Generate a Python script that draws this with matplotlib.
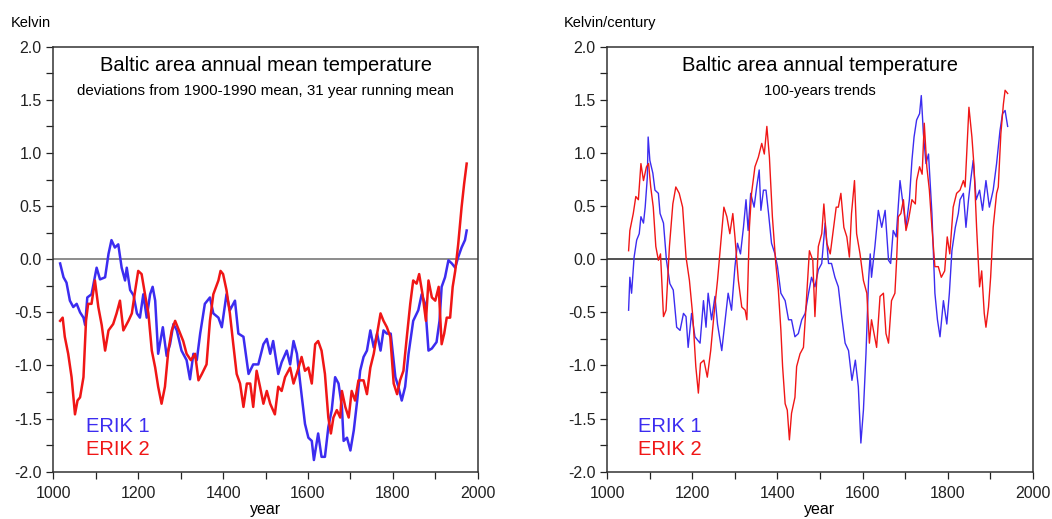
import matplotlib
matplotlib.use("Agg")
import matplotlib.pyplot as plt
from matplotlib.ticker import MultipleLocator, FormatStrFormatter

plt.rcParams['font.family'] = ['Liberation Sans', 'DejaVu Sans']

# ---------------- data: left panel (31-year running mean, K) ----------------
erik1_mean_years = [1016, 1024, 1031, 1039, 1047, 1055, 1063, 1071, 1075, 1080, 1090, 1102, 1110, 1122,
                    1130, 1137, 1145, 1153, 1161, 1169, 1173, 1181, 1189, 1197, 1204, 1212, 1220, 1228,
                    1234, 1240, 1247, 1258, 1267, 1275, 1283, 1291, 1302, 1314, 1322, 1330, 1338, 1346,
                    1357, 1369, 1377, 1389, 1397, 1408, 1416, 1428, 1436, 1448, 1460, 1471, 1483, 1495,
                    1503, 1511, 1518, 1530, 1538, 1550, 1558, 1566, 1574, 1581, 1593, 1601, 1609, 1614,
                    1624, 1632, 1640, 1648, 1656, 1664, 1672, 1680, 1684, 1692, 1700, 1708, 1716, 1723,
                    1731, 1739, 1747, 1755, 1763, 1771, 1778, 1786, 1795, 1806, 1813, 1821, 1829, 1837,
                    1848, 1860, 1868, 1876, 1884, 1892, 1903, 1910, 1915, 1923, 1931, 1939, 1947, 1954,
                    1962, 1970, 1974]
erik1_mean = [-0.04, -0.17, -0.22, -0.39, -0.45, -0.42, -0.50, -0.55, -0.62, -0.36, -0.33, -0.08, -0.19, -0.17,
              0.05, 0.18, 0.11, 0.14, -0.08, -0.20, -0.08, -0.29, -0.34, -0.51, -0.55, -0.33, -0.55, -0.33,
              -0.26, -0.39, -0.89, -0.64, -0.91, -0.80, -0.61, -0.67, -0.86, -0.95, -1.13, -0.89, -0.95, -0.70,
              -0.42, -0.36, -0.51, -0.55, -0.64, -0.33, -0.48, -0.39, -0.70, -0.73, -1.08, -0.99, -0.99, -0.80,
              -0.75, -0.89, -0.77, -1.08, -0.97, -0.86, -0.99, -0.77, -0.89, -1.14, -1.55, -1.68, -1.71, -1.89,
              -1.64, -1.86, -1.86, -1.58, -1.42, -1.11, -1.17, -1.39, -1.71, -1.68, -1.80, -1.61, -1.33, -1.05,
              -0.92, -0.86, -0.67, -0.83, -0.70, -0.86, -0.67, -0.70, -0.70, -1.11, -1.20, -1.33, -1.20, -0.89,
              -0.58, -0.48, -0.33, -0.42, -0.86, -0.84, -0.78, -0.58, -0.26, -0.17, -0.01, -0.04, -0.08, 0.02,
              0.11, 0.18, 0.27]

erik2_mean_years = [1016, 1022, 1027, 1035, 1043, 1051, 1057, 1063, 1071, 1077, 1082, 1090, 1098, 1106,
                    1114, 1122, 1130, 1141, 1149, 1157, 1165, 1177, 1185, 1193, 1200, 1208, 1216, 1224,
                    1232, 1240, 1247, 1255, 1263, 1271, 1279, 1287, 1296, 1306, 1314, 1324, 1334, 1342,
                    1350, 1361, 1369, 1377, 1389, 1394, 1400, 1408, 1416, 1424, 1432, 1440, 1448, 1456,
                    1464, 1471, 1479, 1487, 1495, 1503, 1511, 1522, 1530, 1538, 1546, 1558, 1566, 1578,
                    1585, 1593, 1601, 1609, 1617, 1624, 1632, 1640, 1648, 1654, 1660, 1668, 1676, 1680,
                    1688, 1696, 1703, 1711, 1719, 1731, 1739, 1747, 1755, 1763, 1771, 1778, 1786, 1794,
                    1802, 1810, 1817, 1825, 1833, 1841, 1848, 1856, 1862, 1870, 1878, 1884, 1892, 1900,
                    1908, 1915, 1921, 1927, 1935, 1941, 1947, 1954, 1962, 1968, 1974]
erik2_mean = [-0.58, -0.55, -0.73, -0.89, -1.11, -1.46, -1.33, -1.30, -1.11, -0.58, -0.42, -0.42, -0.20, -0.45,
              -0.62, -0.86, -0.67, -0.61, -0.51, -0.39, -0.67, -0.58, -0.51, -0.29, -0.11, -0.14, -0.33, -0.51,
              -0.86, -1.02, -1.20, -1.36, -1.20, -0.86, -0.67, -0.58, -0.67, -0.77, -0.89, -0.95, -0.89, -1.14,
              -1.08, -0.99, -0.58, -0.33, -0.20, -0.11, -0.14, -0.29, -0.51, -0.80, -1.08, -1.17, -1.39, -1.17,
              -1.17, -1.39, -1.05, -1.20, -1.36, -1.24, -1.36, -1.46, -1.20, -1.24, -1.11, -1.02, -1.17, -1.02,
              -0.92, -1.05, -1.02, -1.17, -0.80, -0.77, -0.86, -1.08, -1.49, -1.64, -1.49, -1.42, -1.49, -1.24,
              -1.39, -1.49, -1.24, -1.33, -1.14, -1.14, -1.27, -1.02, -0.89, -0.70, -0.51, -0.58, -0.64, -0.73,
              -1.17, -1.27, -1.14, -1.05, -0.73, -0.42, -0.20, -0.23, -0.14, -0.33, -0.58, -0.20, -0.36, -0.39,
              -0.26, -0.80, -0.70, -0.55, -0.55, -0.26, -0.11, 0.14, 0.49, 0.71, 0.90]

# ---------------- data: right panel (100-year trends, K/century) ----------------
erik1_trend_years = [1050, 1053, 1057, 1063, 1069, 1075, 1079, 1085, 1089, 1094, 1096, 1100, 1107, 1112,
                     1120, 1124, 1132, 1139, 1147, 1155, 1163, 1171, 1179, 1185, 1190, 1198, 1206, 1218,
                     1226, 1232, 1237, 1245, 1253, 1259, 1269, 1277, 1284, 1292, 1300, 1306, 1313, 1320,
                     1326, 1331, 1337, 1345, 1351, 1357, 1361, 1367, 1373, 1379, 1386, 1394, 1400, 1408,
                     1418, 1426, 1433, 1441, 1449, 1457, 1465, 1473, 1480, 1488, 1496, 1504, 1512, 1520,
                     1527, 1535, 1543, 1551, 1559, 1567, 1575, 1583, 1590, 1596, 1602, 1608, 1614, 1618,
                     1621, 1629, 1637, 1645, 1653, 1661, 1666, 1672, 1679, 1688, 1696, 1702, 1710, 1716,
                     1721, 1727, 1734, 1738, 1743, 1749, 1755, 1763, 1770, 1776, 1782, 1790, 1798, 1804,
                     1810, 1818, 1825, 1829, 1837, 1843, 1849, 1854, 1860, 1867, 1875, 1882, 1890, 1898,
                     1907, 1915, 1923, 1929, 1935, 1941]
erik1_trend = [-0.48, -0.17, -0.32, 0.02, 0.18, 0.24, 0.40, 0.34, 0.49, 0.77, 1.15, 0.93, 0.81, 0.65,
               0.62, 0.43, 0.34, -0.01, -0.23, -0.29, -0.64, -0.67, -0.51, -0.54, -0.83, -0.51, -0.73, -0.79,
               -0.39, -0.64, -0.32, -0.57, -0.35, -0.61, -0.86, -0.57, -0.32, -0.48, -0.07, 0.15, 0.05, 0.30,
               0.56, 0.27, 0.62, 0.49, 0.68, 0.84, 0.46, 0.65, 0.65, 0.43, 0.15, 0.05, -0.07, -0.32,
               -0.39, -0.57, -0.57, -0.73, -0.70, -0.57, -0.51, -0.32, -0.17, -0.26, -0.10, -0.04, 0.34, -0.04,
               -0.04, -0.17, -0.26, -0.54, -0.79, -0.86, -1.14, -0.95, -1.20, -1.73, -1.42, -0.89, -0.20, 0.05,
               -0.17, 0.12, 0.46, 0.30, 0.46, -0.01, -0.04, 0.27, 0.21, 0.74, 0.49, 0.30, 0.56, 0.93,
               1.15, 1.31, 1.37, 1.54, 1.18, 0.90, 0.99, 0.43, -0.32, -0.57, -0.73, -0.39, -0.61, -0.32,
               0.08, 0.30, 0.43, 0.56, 0.62, 0.30, 0.56, 0.74, 0.93, 0.56, 0.65, 0.46, 0.74, 0.49,
               0.65, 0.90, 1.21, 1.37, 1.40, 1.25]

erik2_trend_years = [1050, 1053, 1061, 1067, 1073, 1079, 1085, 1092, 1097, 1102, 1108, 1114, 1120, 1125,
                     1132, 1138, 1146, 1154, 1161, 1169, 1177, 1185, 1193, 1201, 1208, 1214, 1219, 1227,
                     1235, 1243, 1251, 1259, 1266, 1274, 1281, 1288, 1295, 1300, 1308, 1316, 1324, 1328,
                     1334, 1339, 1347, 1355, 1363, 1369, 1375, 1381, 1388, 1396, 1402, 1408, 1412, 1418,
                     1423, 1428, 1433, 1441, 1445, 1453, 1461, 1467, 1475, 1483, 1488, 1496, 1504, 1509,
                     1516, 1524, 1531, 1538, 1543, 1549, 1556, 1563, 1569, 1574, 1581, 1586, 1594, 1602,
                     1610, 1616, 1621, 1627, 1633, 1641, 1649, 1655, 1661, 1668, 1676, 1680, 1684, 1690,
                     1696, 1702, 1708, 1716, 1724, 1727, 1734, 1740, 1745, 1751, 1757, 1763, 1770, 1778,
                     1785, 1793, 1799, 1805, 1813, 1821, 1829, 1837, 1841, 1850, 1857, 1862, 1868, 1875,
                     1880, 1886, 1890, 1896, 1901, 1907, 1915, 1919, 1925, 1931, 1935, 1941]
erik2_trend = [0.08, 0.27, 0.43, 0.59, 0.56, 0.90, 0.74, 0.87, 0.90, 0.68, 0.49, 0.12, -0.01, 0.05,
               -0.54, -0.48, 0.12, 0.52, 0.68, 0.62, 0.49, 0.02, -0.20, -0.54, -1.01, -1.26, -0.98, -0.95,
               -1.11, -0.86, -0.51, -0.20, 0.12, 0.49, 0.40, 0.24, 0.43, 0.21, -0.20, -0.45, -0.48, -0.57,
               0.30, 0.62, 0.87, 0.96, 1.09, 0.99, 1.25, 0.96, 0.40, -0.04, -0.29, -0.67, -1.01, -1.36,
               -1.42, -1.70, -1.45, -1.30, -1.01, -0.89, -0.83, -0.45, 0.08, -0.01, -0.54, 0.12, 0.24, 0.52,
               0.15, 0.05, 0.27, 0.49, 0.49, 0.62, 0.30, 0.21, 0.02, 0.43, 0.74, 0.24, 0.05, -0.20,
               -0.32, -0.79, -0.57, -0.70, -0.83, -0.35, -0.32, -0.70, -0.79, -0.39, -0.32, -0.01, 0.40, 0.43,
               0.56, 0.27, 0.37, 0.56, 0.52, 0.74, 0.87, 0.80, 1.28, 0.87, 0.65, 0.30, -0.07, -0.07,
               -0.17, -0.11, 0.21, 0.05, 0.49, 0.62, 0.65, 0.74, 0.68, 1.43, 1.15, 0.87, 0.30, -0.26,
               -0.11, -0.51, -0.64, -0.45, -0.17, 0.30, 0.62, 0.68, 1.18, 1.46, 1.59, 1.56]

x_ticks = [1000, 1200, 1400, 1600, 1800, 2000]
y_ticks = [-2.0, -1.5, -1.0, -0.5, 0.0, 0.5, 1.0, 1.5, 2.0]

BLUE = '#3c2cf0'
RED = '#f01616'

fig = plt.figure(figsize=(10.52, 5.19), dpi=100)
ax1 = fig.add_axes([0.0507, 0.0911, 0.4034, 0.8189])
ax2 = fig.add_axes([0.5773, 0.0911, 0.4044, 0.8189])


def style(ax, zero_color):
    ax.set_xlim(1000, 2000)
    ax.set_ylim(-2.0, 2.0)
    ax.set_xticks(x_ticks)
    ax.set_yticks(y_ticks)
    ax.xaxis.set_minor_locator(MultipleLocator(100))
    ax.yaxis.set_minor_locator(MultipleLocator(0.25))
    ax.yaxis.set_major_formatter(FormatStrFormatter('%.1f'))
    ax.tick_params(which='both', direction='out', length=5, width=0.9, top=False, right=False,
                   labelsize=11.5, colors='#222222')
    ax.tick_params(axis='x', pad=5)
    for s in ax.spines.values():
        s.set_linewidth(1.1)
        s.set_color('#333333')
    ax.axhline(0, color=zero_color, lw=1.1, zorder=1)
    ax.set_xlabel('year', fontsize=11.5, labelpad=1)


style(ax1, '#6e6e6e')
style(ax2, '#222222')

ax1.plot(erik2_mean_years, erik2_mean, color=RED, lw=1.8, zorder=3)
ax1.plot(erik1_mean_years, erik1_mean, color=BLUE, lw=1.8, zorder=2)

ax2.plot(erik1_trend_years, erik1_trend, color=BLUE, lw=1.0, zorder=2)
ax2.plot(erik2_trend_years, erik2_trend, color=RED, lw=1.0, zorder=3)

ax1.text(0.5, 0.955, 'Baltic area annual mean temperature', transform=ax1.transAxes,
         ha='center', va='center', fontsize=14.5)
ax1.text(0.5, 0.896, 'deviations from 1900-1990 mean, 31 year running mean', transform=ax1.transAxes,
         ha='center', va='center', fontsize=10.9)
ax2.text(0.5, 0.955, 'Baltic area annual temperature', transform=ax2.transAxes,
         ha='center', va='center', fontsize=14.5)
ax2.text(0.5, 0.896, '100-years trends', transform=ax2.transAxes,
         ha='center', va='center', fontsize=10.7)

for ax, xl in ((ax1, 0.077), (ax2, 0.0715)):
    ax.text(xl, 0.1075, 'ERIK 1', transform=ax.transAxes, ha='left', va='center',
            fontsize=14.5, color=BLUE)
    ax.text(xl, 0.0534, 'ERIK 2', transform=ax.transAxes, ha='left', va='center',
            fontsize=14.5, color=RED)

fig.text(11 / 1052, 1 - 23 / 519, 'Kelvin', ha='left', va='center', fontsize=10.5)
fig.text(564 / 1052, 1 - 23 / 519, 'Kelvin/century', ha='left', va='center', fontsize=10.5)

fig.savefig('out.png', dpi=100)
